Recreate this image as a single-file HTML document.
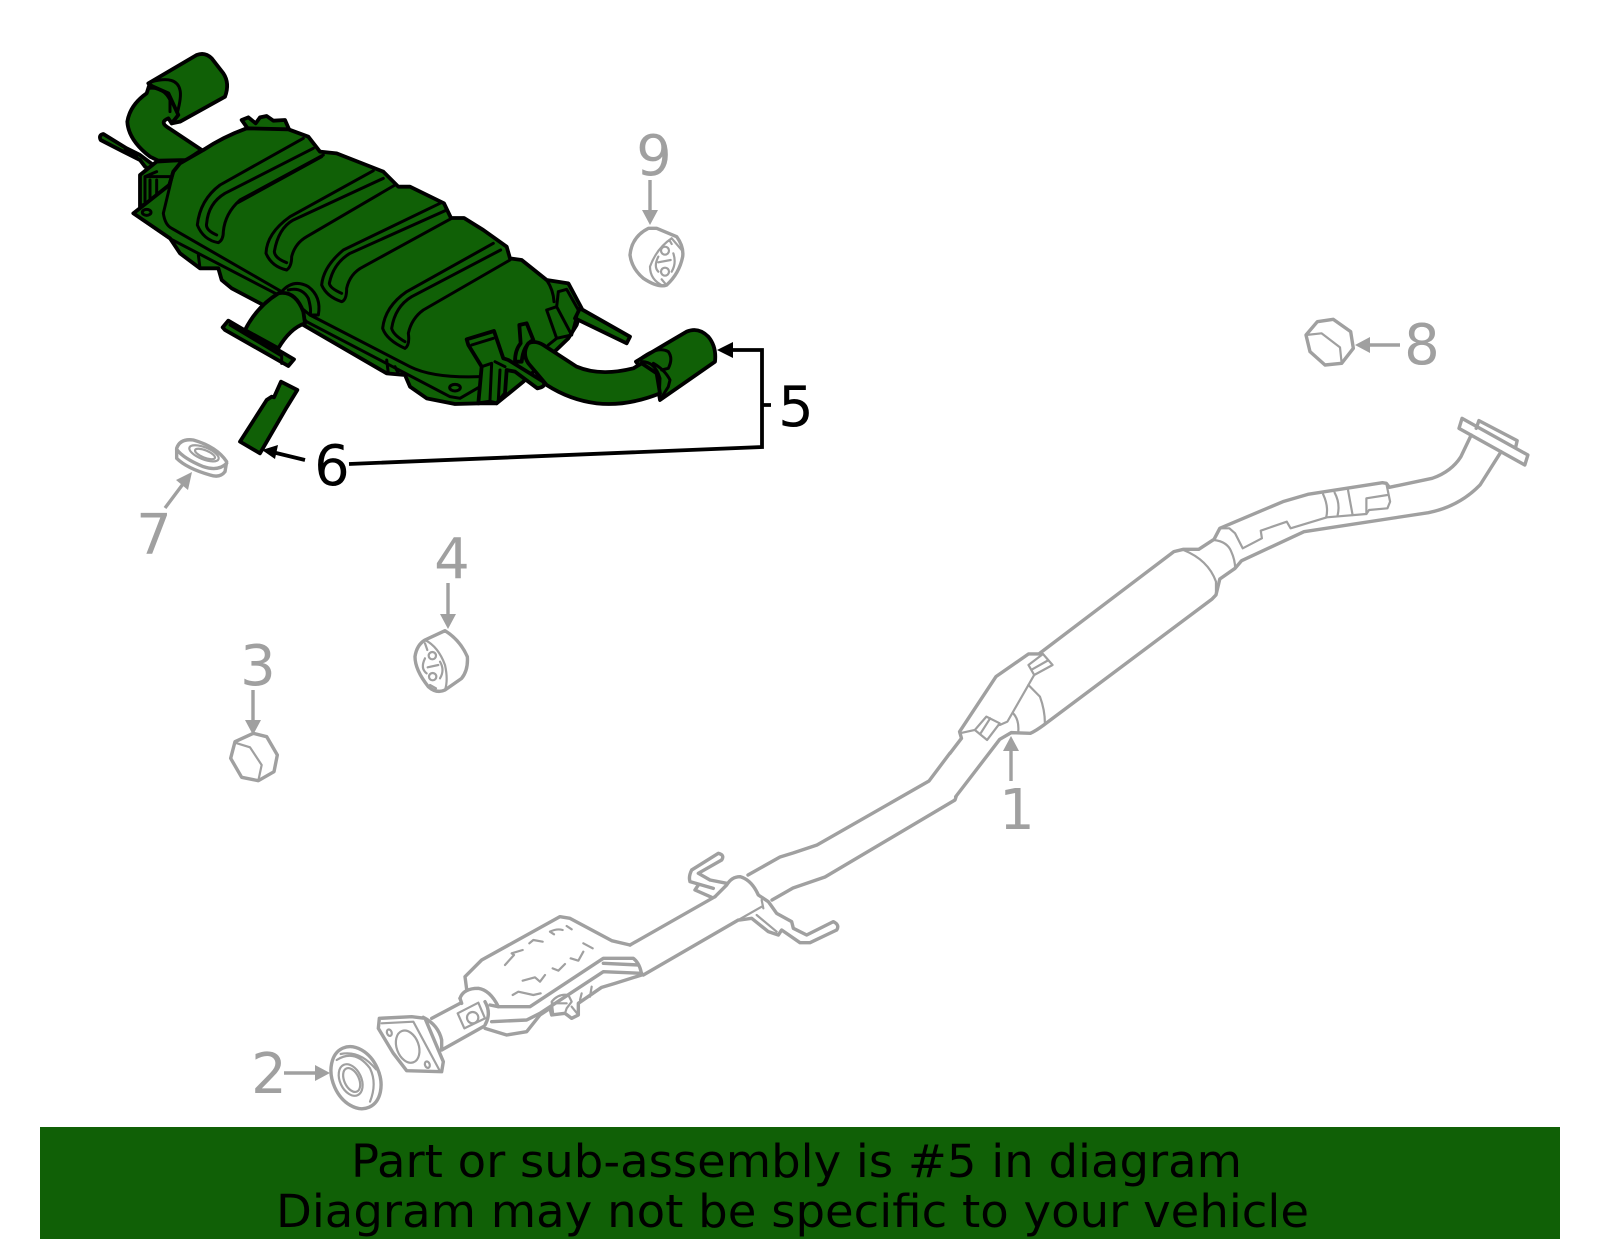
<!DOCTYPE html>
<html><head><meta charset="utf-8"><style>
html,body{margin:0;padding:0;background:#fff}
svg{display:block}
svg *{vector-effect:non-scaling-stroke}
text{font-family:"DejaVu Sans",sans-serif}
.g{fill:none;stroke:#a0a0a0;stroke-width:3.4;stroke-linejoin:round;stroke-linecap:round}
.t{stroke-width:2.2}
.k{fill:#106006;stroke:#000;stroke-width:3.8;stroke-linejoin:round;stroke-linecap:round}
.n{fill:none;stroke:#000;stroke-width:3;stroke-linejoin:round;stroke-linecap:round}
.lg{fill:#a0a0a0;font-size:56px;text-anchor:middle}
.lk{fill:#000;font-size:56px;text-anchor:middle}
</style></head><body>
<svg width="1600" height="1249" viewBox="0 0 1600 1249" xmlns="http://www.w3.org/2000/svg">
<rect width="1600" height="1249" fill="#fff"/>

<!-- muffler -->
<g transform="translate(90 40) scale(.33333)">
<path class="k" d="M40,282L110,325L150,345L190,375L185,395L165,380L150,360L100,335L32,300Q25,285 40,282Z"/>
<path class="n" d="M105,330L140,348"/>
<path class="k" d="M150,405L200,365L280,360L250,395L238,435L170,490L150,500Z"/>
<path class="n" d="M165,410L245,410M200,395L165,410M180,420L180,480M200,420L200,465M165,410L165,485"/>
<path class="k" d="M455,240L475,232L497,250L510,232L530,228L550,242L585,240L598,270L480,275Z"/>
<path class="k" d="M175,130L320,45Q345,35 365,55L400,100Q420,130 405,170L270,245L245,250L200,150Z"/>
<path class="k" d="M170,160Q120,195 112,245Q115,300 180,350L205,362L290,360L335,330L230,260Q210,245 235,235L245,250L265,225L235,160L178,135Z"/>
<path class="n" d="M175,145Q220,140 240,180L240,215M185,125Q260,105 270,150Q275,170 262,218"/>

<!-- silhouette -->
<path class="k" d="M130,520L240,595L250,610L270,640L330,685L385,685L395,720L425,745L520,795L640,855L890,1000L945,1005L960,1040L1010,1075L1095,1092L1170,1090L1220,1090L1300,1025L1435,895L1460,855L1475,805L1435,730L1370,720L1295,660L1260,655L1250,620L1180,570L1122,534L1083,534L1062,490L960,440L925,440L880,395L740,340L690,335L655,290L595,268L470,265Q400,290 340,330L270,370L250,395L238,435Z"/>
<path class="n" d="M250,395L220,520Q225,555 245,565L575,755L660,825L960,980Q1030,1015 1170,1010M130,520L238,595L575,770L650,845L1080,1070L1110,1075L1170,1040M325,645L330,685M890,960L895,1000M915,980L925,1000"/>
<ellipse class="n" cx="170" cy="517" rx="13" ry="9"/><ellipse class="n" cx="1095" cy="1043" rx="16" ry="10"/>

<!-- ribs -->
<path class="n" d="M640,295L390,435Q330,480 322,555Q340,600 385,608Q400,600 400,575Q405,520 450,480L700,345M380,585Q345,570 350,550Q355,490 405,460L670,325M440,490L695,350"/>
<path class="n" d="M850,392L600,530Q530,580 528,640Q545,680 590,690Q605,680 605,650Q615,610 650,590L915,435M590,668Q555,655 553,635Q565,565 610,540L880,415"/>
<path class="n" d="M1050,490L760,630Q700,680 695,735Q710,770 755,785Q770,780 770,745Q780,700 820,680L1085,535M755,760Q720,745 718,730Q730,670 780,640L1070,510"/>
<path class="n" d="M1210,610L950,755Q885,800 878,865Q890,900 945,925Q960,915 955,880Q965,835 1000,810L1260,660M945,905Q910,885 905,865Q915,800 965,770L1232,630"/>

<!-- outlet & piece 6 (second crop frame) -->
<g transform="translate(360 630)">
<path class="k" d="M105,240Q140,170 205,130Q255,120 280,185L285,220Q240,235 205,295Z"/>
<path class="n" d="M215,125Q250,85 295,110Q335,140 325,195L300,195M235,120Q275,110 295,145Q305,180 300,195"/>
<path class="k" d="M55,212L252,328L235,348L45,240L38,232Z"/>
<path class="n" d="M60,225L215,318L215,340"/>
<path class="k" d="M213,395L262,420L230,472L150,610L90,575L170,450L185,440L192,442Z"/>
</g>

<!-- right end (third crop frame) -->
<g transform="translate(930 570)">
<path class="k" d="M540,235L690,320L680,340L525,265Z"/>
<path class="n" d="M440,150Q460,180 462,215M440,240L470,230L515,315L470,325ZM475,185L500,178L535,240L515,315M475,185L470,230M470,325L445,345"/>
<path class="k" d="M345,395Q345,360 362,340L358,285L380,280L400,330Q370,345 365,395Z"/>
<path class="k" d="M708,395L800,340L860,305Q895,290 925,320Q950,350 945,395L780,510L775,480Z"/>
<path class="k" d="M385,340Q405,330 430,345L530,410Q600,440 700,415L725,400L770,430L780,490Q680,530 590,520Q510,510 440,465L385,400Q365,370 385,340Z"/>
<path class="n" d="M710,395Q770,345 805,365Q820,385 805,415L785,420M725,395Q765,395 780,445L778,490M760,400Q795,420 810,450L805,470L780,510"/>
<path class="k" d="M200,328L282,303L310,385L325,390L430,455Q440,470 412,475L345,425L320,420L315,490L290,520L270,515L235,520L245,410L205,345Z"/>
<path class="n" d="M215,345L280,325M245,410L275,400L270,510M285,395L315,410M300,420L295,510"/>
</g>
</g>

<!-- main pipe right part -->
<g transform="translate(950 400) scale(.3827 .3333)">
<path class="g" d="M0,1060L30,1015L25,995L120,830L205,762L232,762L585,455L610,448L650,448L690,418L705,385L870,305L935,283L1130,248L1140,250L1148,262L1260,235Q1310,215 1335,170L1362,105"/>
<path class="g" d="M1338,55L1510,165L1502,195L1330,85Z M1382,62L1482,122L1478,142M1375,85L1382,62"/>
<path class="g" d="M1440,155L1385,255Q1330,320 1250,338L925,395L762,482L745,505L705,537L695,585L685,597L245,975Q225,992 210,1000L160,998L130,1018L15,1190"/>
<g class="g t">
<path d="M1140,250L1150,305L1143,325L1095,330L1088,342L985,352L890,385L880,365L812,392L815,415L765,445L745,400L730,385L705,385"/>
<path d="M1088,342L1088,295L1143,285M975,283Q990,320 983,352M1005,278Q1020,310 1013,345M1040,270L1052,345"/>
<path d="M690,420Q725,425 735,455Q745,480 745,505M610,450Q675,480 695,545L695,585"/>
<path d="M205,795L243,762L268,795L220,825ZM215,808L255,782M220,825L150,965L130,975M65,990L25,1000"/>
<path d="M65,990L95,950L130,970L97,1020ZM80,1000L105,955"/>
<path d="M205,855L235,890Q248,930 248,970M165,940Q182,960 178,1000"/>
</g>
</g>

<!-- main pipe mid -->
<path class="g" d="M748,875L780,857L793,853L817,845L929,781L950,753"/>
<path class="g" d="M772,900L793,888L825,877L955,800L956,797"/>

<!-- hangers / mid pipe -->
<g transform="translate(360 840) scale(.33333)">
<path class="g" d="M810,315L1065,170M850,405L1135,240"/>
<path class="g" d="M1140,240L1175,235L1225,275L1255,285L1265,270L1320,308L1350,308L1430,270Q1440,255 1420,245L1340,285L1300,265L1295,245L1250,220L1225,185L1195,165Q1175,120 1140,110Q1115,110 1100,135L1065,170"/>
<path class="g" d="M1050,120L1100,130M1050,120L1015,100L1085,60Q1095,45 1075,40L995,90Q985,110 990,125L1060,145M1005,150L1055,172M1005,150L1015,135"/>
<path class="g t" d="M1190,225L1250,275M1135,240L1205,200M1210,205L1205,180"/>
</g>

<!-- catalytic converter -->
<g transform="translate(370 900) scale(.33333)">
<path class="g" d="M780,135L725,122L600,55L570,50L335,180L285,230L290,268M270,295Q280,265 325,265Q360,270 385,320L480,320L700,175L790,175Q810,190 815,225L735,250L695,262L625,310L625,345L605,355L585,340L545,345L540,325L510,345L470,395L410,405L345,385"/>
<path class="g" d="M365,365L470,360L510,340L700,215L815,220M700,190L805,195M360,315L385,320"/>
<path class="g" d="M28,355L125,350L165,355L220,485L215,515L110,512L70,460L25,385ZM160,352Q205,375 215,420L215,450M185,355L270,310M215,450L340,380M270,295L275,310M345,305Q365,340 345,375"/>
<g class="g t">
<path d="M263,340L325,308L345,355L283,385Z"/><circle cx="308" cy="353" r="17"/>
<ellipse cx="113" cy="440" rx="33" ry="50" transform="rotate(-20 113 440)"/>
<ellipse cx="58" cy="398" rx="7" ry="10" transform="rotate(-20 58 398)"/><ellipse cx="172" cy="494" rx="7" ry="10" transform="rotate(-20 172 494)"/>
<path d="M35,370L130,365L208,510"/>
<path d="M405,195L432,165L425,160L458,150M478,130L490,120L518,125M552,103L540,95Q560,85 578,90M590,78L605,88M640,130L668,145M602,175L625,182L640,155M548,205L565,212L585,192M458,242L495,232L510,245L525,225M428,285L445,275L490,285L512,280"/>
<path d="M545,305Q565,280 595,285L605,305L590,325L585,340L550,345ZM550,310L590,310M605,320L625,345M630,300L635,280M660,290L665,260M510,345L515,335"/>
</g>
</g>

<!-- small parts -->
<g transform="translate(130 420) scale(.33333)">
<path class="g" d="M140,85Q150,55 190,60Q260,80 290,125L285,155Q270,175 240,165Q170,145 140,115ZM140,88Q160,115 220,140Q265,155 290,130"/>
<g class="g t"><ellipse cx="222" cy="100" rx="47" ry="18" transform="rotate(22 222 100)"/><ellipse cx="225" cy="102" rx="32" ry="11" transform="rotate(22 225 102)"/></g>
<path class="g" d="M302,1015L315,965L370,940L410,950L442,1005L432,1055L385,1082L335,1072Z"/>
<path class="g t" d="M315,968L360,982L395,1035L385,1082"/>
<path class="g" d="M945,632Q990,660 1012,710Q1015,750 995,775L945,810Q920,822 895,800Q855,750 855,710Q860,675 885,660Z"/>
<g class="g t"><path d="M885,660Q925,680 945,735Q955,780 945,810M885,670L892,690M900,795L918,805M893,742L925,735M885,715Q870,745 890,760M930,725Q945,750 930,775"/><circle cx="907" cy="707" r="11"/><circle cx="908" cy="770" r="11"/></g>
</g>
<g transform="translate(400 230) scale(.33333)">
<path class="g" d="M770,-5L830,20Q852,50 848,80Q838,130 800,165Q775,175 730,145Q695,115 690,75Q695,20 745,-5Z"/>
<g class="g t"><path d="M815,25Q770,55 750,110Q750,150 790,168M815,25L845,60M775,80Q760,110 775,125M820,70Q830,100 815,125M775,97L812,90M808,30L815,42M785,148L795,160"/><circle cx="795" cy="62" r="12"/><circle cx="795" cy="125" r="12"/></g>
</g>
<!-- part 8 -->
<g transform="translate(1290 310) scale(.33333)">
<path class="g" d="M48,75L82,35L130,28L182,65L190,115L155,160L105,165L60,125Z"/>
<path class="g t" d="M48,75L95,70L150,112L155,160"/>
</g>
<!-- part 2 -->
<g transform="translate(320 1030) scale(.33333)">
<ellipse class="g" cx="108" cy="143" rx="70" ry="97" transform="rotate(-24 108 143)"/>
<g class="g t"><path d="M50,90Q105,55 150,115Q172,160 150,215M62,72Q120,60 168,118"/><ellipse cx="92" cy="150" rx="32" ry="50" transform="rotate(-25 92 150)"/><ellipse cx="95" cy="150" rx="22" ry="38" transform="rotate(-25 95 150)"/></g>
</g>

<!-- arrows gray -->
<g fill="#a0a0a0" stroke="#a0a0a0" stroke-width="3.4">
<path d="M650,180V212M448,583V616M253,690V722M1011,781V750M1400,345H1370M284,1073H316M165,508L183,484" fill="none"/>
<path stroke="none" d="M650,225L642,210H658ZM448,629L440,614H456ZM253,735L245,720H261ZM1011,736L1003,751H1019ZM1355,345L1370,337V353ZM330,1073L315,1065V1081ZM192,472L188,490L176,480Z"/>
</g>
<!-- black callouts -->
<path d="M262,450L278,445L275,459ZM717,350L733,342V358Z" fill="#000"/>
<path d="M305,460L272,452M730,350H762V447L349,464M762,405H771" fill="none" stroke="#000" stroke-width="3.8"/>

<!-- labels -->
<text class="lg" x="654" y="175">9</text>
<text class="lg" x="1422" y="364">8</text>
<text class="lk" x="796" y="426">5</text>
<text class="lk" x="332" y="485">6</text>
<text class="lg" x="154" y="554">7</text>
<text class="lg" x="452" y="578">4</text>
<text class="lg" x="258" y="685">3</text>
<text class="lg" x="1017" y="829">1</text>
<text class="lg" x="269" y="1093">2</text>

<!-- banner -->
<rect x="40" y="1127" width="1520" height="112" fill="#106006"/>
<text x="351" y="1177" font-size="45" textLength="891" lengthAdjust="spacingAndGlyphs" fill="#000">Part or sub-assembly is #5 in diagram</text>
<text x="276" y="1227" font-size="45" textLength="1033" lengthAdjust="spacingAndGlyphs" fill="#000">Diagram may not be specific to your vehicle</text>
</svg>
</body></html>
